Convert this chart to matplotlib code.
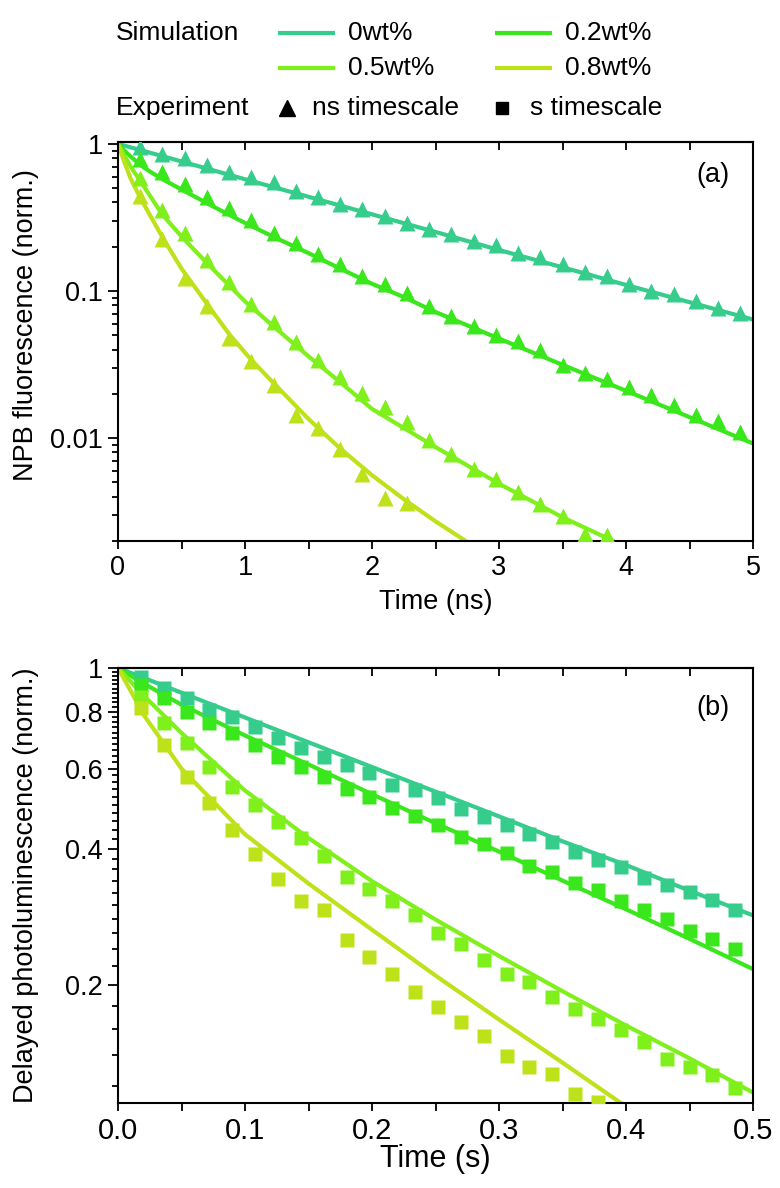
import numpy as np
import matplotlib
matplotlib.use('Agg')
import matplotlib.pyplot as plt
from matplotlib.ticker import MultipleLocator, FixedLocator, NullFormatter

plt.rcParams['font.family'] = ['Liberation Sans', 'DejaVu Sans']

# colours for the four doping levels
col_0 = '#35CC8C'
col_2 = '#3AE61C'
col_5 = '#80F01C'
col_8 = '#BEE21A'

# ---- panel (a): ns fluorescence -------------------------------------------
t_ns = [0.175, 0.35, 0.525, 0.7, 0.875, 1.05, 1.225, 1.4, 1.575, 1.75,
        1.925, 2.1, 2.275, 2.45, 2.625, 2.8, 2.975, 3.15, 3.325, 3.5,
        3.675, 3.85, 4.025, 4.2, 4.375, 4.55, 4.725, 4.9]

exp_ns_0 = [0.948, 0.855, 0.798, 0.719, 0.647, 0.593, 0.548, 0.480, 0.433, 0.389,
            0.360, 0.321, 0.292, 0.266, 0.243, 0.219, 0.205, 0.182, 0.169, 0.152,
            0.134, 0.126, 0.111, 0.100, 0.095, 0.085, 0.077, 0.071]
exp_ns_2 = [0.785, 0.641, 0.533, 0.433, 0.364, 0.304, 0.249, 0.213, 0.178, 0.152,
            0.126, 0.111, 0.0962, 0.0787, 0.0673, 0.0582, 0.0505, 0.0454, 0.0399, 0.0315,
            0.0276, 0.0251, 0.0224, 0.0197, 0.0168, 0.0144, 0.0131, 0.0110]
exp_ns_5 = [0.585, 0.358, 0.247, 0.162, 0.115, 0.0822, 0.0612, 0.0448, 0.0341, 0.0259,
            0.0202, 0.0162, 0.0128, 0.00969, 0.00786, 0.0062, 0.0053, 0.0043, 0.00358, 0.00298,
            0.00223, 0.00218]
exp_ns_8 = [0.44, 0.225, 0.123, 0.0787, 0.0479, 0.0332, 0.023, 0.0144, 0.01165, 0.0085,
            0.00574, 0.00394, 0.00361]

sim_ns_t0 = [0, 0.5, 1.0, 1.5, 2.0, 2.5, 3.0, 3.5, 4.0, 4.5, 5.0]
sim_ns_0 = [1.0, 0.76, 0.575, 0.437, 0.332, 0.252, 0.19, 0.145, 0.11, 0.084, 0.064]
sim_ns_t2 = [0, 0.05, 0.1, 0.175, 0.25, 0.35, 0.5, 0.75, 1.0, 1.25, 1.5, 1.75, 2.0,
             2.25, 2.5, 3.0, 3.5, 4.0, 4.5, 5.0]
sim_ns_2 = [1.0, 0.90, 0.82, 0.72, 0.65, 0.575, 0.49, 0.375, 0.29, 0.228, 0.181, 0.142, 0.112,
            0.091, 0.072, 0.0475, 0.0315, 0.021, 0.0139, 0.0092]
sim_ns_t5 = [0, 0.05, 0.1, 0.175, 0.35, 0.5, 0.7, 1.0, 1.25, 1.5, 1.75, 2.0, 2.5, 3.0, 3.5, 3.9, 4.0]
sim_ns_5 = [1.0, 0.83, 0.70, 0.56, 0.33, 0.235, 0.155, 0.085, 0.055, 0.036, 0.024, 0.0158,
            0.0087, 0.0049, 0.0029, 0.002, 0.0018]
sim_ns_t8 = [0, 0.05, 0.1, 0.175, 0.35, 0.5, 0.7, 0.875, 1.05, 1.25, 1.5, 1.75, 2.0, 2.25,
             2.5, 2.75, 2.9]
sim_ns_8 = [1.0, 0.75, 0.58, 0.43, 0.232, 0.142, 0.082, 0.051, 0.034, 0.0225, 0.0135, 0.0085,
            0.0056, 0.00385, 0.00272, 0.00197, 0.00162]

# ---- panel (b): s delayed PL ------------------------------------------------
t_s = [0.018, 0.036, 0.054, 0.072, 0.090, 0.108, 0.126, 0.144, 0.162, 0.180,
       0.198, 0.216, 0.234, 0.252, 0.270, 0.288, 0.306, 0.324, 0.342, 0.360,
       0.378, 0.396, 0.414, 0.432, 0.450, 0.468, 0.486]

exp_s_0 = [0.957, 0.902, 0.857, 0.808, 0.781, 0.742, 0.700, 0.665, 0.637, 0.611,
           0.586, 0.553, 0.538, 0.516, 0.490, 0.470, 0.450, 0.4315, 0.4135, 0.393,
           0.378, 0.364, 0.345, 0.332, 0.321, 0.3075, 0.2933]
exp_s_2 = [0.917, 0.857, 0.801, 0.755, 0.718, 0.676, 0.637, 0.605, 0.575, 0.542,
           0.520, 0.492, 0.472, 0.450, 0.424, 0.410, 0.391, 0.367, 0.355, 0.336,
           0.324, 0.306, 0.293, 0.280, 0.263, 0.253, 0.2405]
exp_s_5 = [0.864, 0.755, 0.682, 0.605, 0.547, 0.499, 0.458, 0.422, 0.386, 0.346,
           0.325, 0.306, 0.285, 0.260, 0.247, 0.227, 0.212, 0.203, 0.188, 0.177,
           0.1685, 0.159, 0.150, 0.1375, 0.132, 0.127, 0.119]
exp_s_8 = [0.815, 0.676, 0.575, 0.503, 0.439, 0.390, 0.343, 0.307, 0.293, 0.252,
           0.231, 0.212, 0.193, 0.179, 0.1657, 0.1548, 0.1398, 0.1318, 0.1274, 0.115,
           0.1104]

sim_s_t = [0, 0.02, 0.05, 0.1, 0.15, 0.2, 0.25, 0.3, 0.35, 0.4, 0.45, 0.5]
sim_s_0 = [1.0, 0.952, 0.882, 0.778, 0.686, 0.605, 0.534, 0.471, 0.415, 0.368, 0.323, 0.285]
sim_s_2 = [1.0, 0.925, 0.83, 0.71, 0.613, 0.527, 0.455, 0.394, 0.340, 0.294, 0.253, 0.217]
sim_s_5 = [1.0, 0.871, 0.719, 0.537, 0.422, 0.339, 0.279, 0.232, 0.194, 0.163, 0.138, 0.116]
sim_s_t8 = [0, 0.01, 0.02, 0.05, 0.1, 0.15, 0.2, 0.25, 0.3, 0.35, 0.4]
sim_s_8 = [1.0, 0.89, 0.79, 0.60, 0.43, 0.335, 0.265, 0.21, 0.168, 0.135, 0.108]

series_labels = ['0wt%', '0.2wt%', '0.5wt%', '0.8wt%']
colors = [col_0, col_2, col_5, col_8]

LW = 3.0
FS = 19.5


def style_axes(ax, top_ticks):
  for sp in ax.spines.values():
    sp.set_linewidth(1.5)
  ax.tick_params(axis='both', which='both', direction='out', width=1.3,
                 right=False, top=False, labelsize=FS, pad=4)
  ax.tick_params(axis='y', which='major', length=7)
  ax.tick_params(axis='y', which='minor', length=4)
  ax.tick_params(axis='x', which='both', length=6)
  sec = ax.secondary_xaxis('top')
  sec.set_xticks(top_ticks)
  sec.tick_params(direction='in', length=6, width=1.3, labeltop=False)
  sec.spines['top'].set_linewidth(1.5)


fig = plt.figure(figsize=(7.8, 11.88), dpi=100)

# ---------------- panel (a)
ax1 = fig.add_axes([118/780, 1-541/1188, 635/780, 399/1188])
ax1.set_yscale('log')
sim_a = [(sim_ns_t0, sim_ns_0), (sim_ns_t2, sim_ns_2), (sim_ns_t5, sim_ns_5), (sim_ns_t8, sim_ns_8)]
exp_a = [exp_ns_0, exp_ns_2, exp_ns_5, exp_ns_8]
for (ts, ys), ye, c in zip(sim_a, exp_a, colors):
  ax1.plot(ts, ys, color=c, lw=LW, zorder=2)
  ax1.plot(t_ns[:len(ye)], ye, ls='none', marker='^', ms=11.5, color=c, mec='none', zorder=3)
ax1.set_xlim(0, 5)
ax1.set_ylim(0.002, 1.03)
ax1.set_xticks([0, 1, 2, 3, 4, 5])
ax1.xaxis.set_minor_locator(MultipleLocator(0.5))
ax1.set_yticks([0.01, 0.1, 1])
ax1.set_yticklabels(['0.01', '0.1', '1'])
ax1.yaxis.set_minor_formatter(NullFormatter())
style_axes(ax1, np.arange(0.5, 5.0, 0.5))
ax1.set_xlabel('Time (ns)', fontsize=FS)
ax1.xaxis.set_label_coords(0.5, -0.12)
ax1.set_ylabel('NPB fluorescence (norm.)', fontsize=FS)
ax1.yaxis.set_label_coords(-0.125, 0.54)
ax1.text(0.937, 0.917, '(a)', transform=ax1.transAxes, ha='center', va='center', fontsize=FS)

# ---------------- panel (b)
ax2 = fig.add_axes([118/780, 1-1103/1188, 635/780, 435/1188])
ax2.set_yscale('log')
sim_b = [(sim_s_t, sim_s_0), (sim_s_t, sim_s_2), (sim_s_t, sim_s_5), (sim_s_t8, sim_s_8)]
exp_b = [exp_s_0, exp_s_2, exp_s_5, exp_s_8]
for (ts, ys), ye, c in zip(sim_b, exp_b, colors):
  ax2.plot(ts, ys, color=c, lw=LW, zorder=2)
  ax2.plot(t_s[:len(ye)], ye, ls='none', marker='s', ms=10, color=c, mec='none', zorder=3)
ax2.set_xlim(0, 0.5)
ax2.set_ylim(0.11, 1.0)
ax2.set_xticks([0, 0.1, 0.2, 0.3, 0.4, 0.5])
ax2.set_xticklabels(['0.0', '0.1', '0.2', '0.3', '0.4', '0.5'], fontsize=21)
ax2.xaxis.set_minor_locator(MultipleLocator(0.05))
ax2.set_yticks([0.2, 0.4, 0.6, 0.8, 1])
ax2.set_yticklabels(['0.2', '0.4', '0.6', '0.8', '1'])
ax2.yaxis.set_minor_locator(FixedLocator(np.arange(0.12, 1.0, 0.02)))
ax2.yaxis.set_minor_formatter(NullFormatter())
style_axes(ax2, np.arange(0.05, 0.5, 0.05))
ax2.tick_params(axis='x', labelsize=21)
ax2.set_xlabel('Time (s)', fontsize=22)
ax2.xaxis.set_label_coords(0.5, -0.095)
ax2.set_ylabel('Delayed photoluminescence (norm.)', fontsize=FS)
ax2.yaxis.set_label_coords(-0.125, 0.5)
ax2.text(0.937, 0.908, '(b)', transform=ax2.transAxes, ha='center', va='center', fontsize=FS)

# ---------------- legend block on top (pixel layout)
lg = fig.add_axes([0, 1-140/1188, 1, 140/1188])
lg.set_xlim(0, 780)
lg.set_ylim(140, 0)
lg.axis('off')
LFS = 19
row1, row2, row3 = 33, 68, 108
lg.text(116, row1, 'Simulation', fontsize=LFS, va='center')
key_pos = [(278, row1), (495, row1), (278, row2), (495, row2)]
for (x0, y0), c, lab in zip(key_pos, colors, series_labels):
  lg.plot([x0, x0+57], [y0, y0], color=c, lw=LW, solid_capstyle='butt')
  lg.text(x0+70, y0, lab, fontsize=LFS, va='center')
lg.text(116, row3, 'Experiment', fontsize=LFS, va='center')
lg.plot([287], [row3], marker='^', ms=11, color='black', ls='none')
lg.text(312, row3, 'ns timescale', fontsize=LFS, va='center')
lg.plot([502], [row3], marker='s', ms=9, color='black', ls='none')
lg.text(530, row3, 's timescale', fontsize=LFS, va='center')

plt.savefig('out.png', dpi=100)
